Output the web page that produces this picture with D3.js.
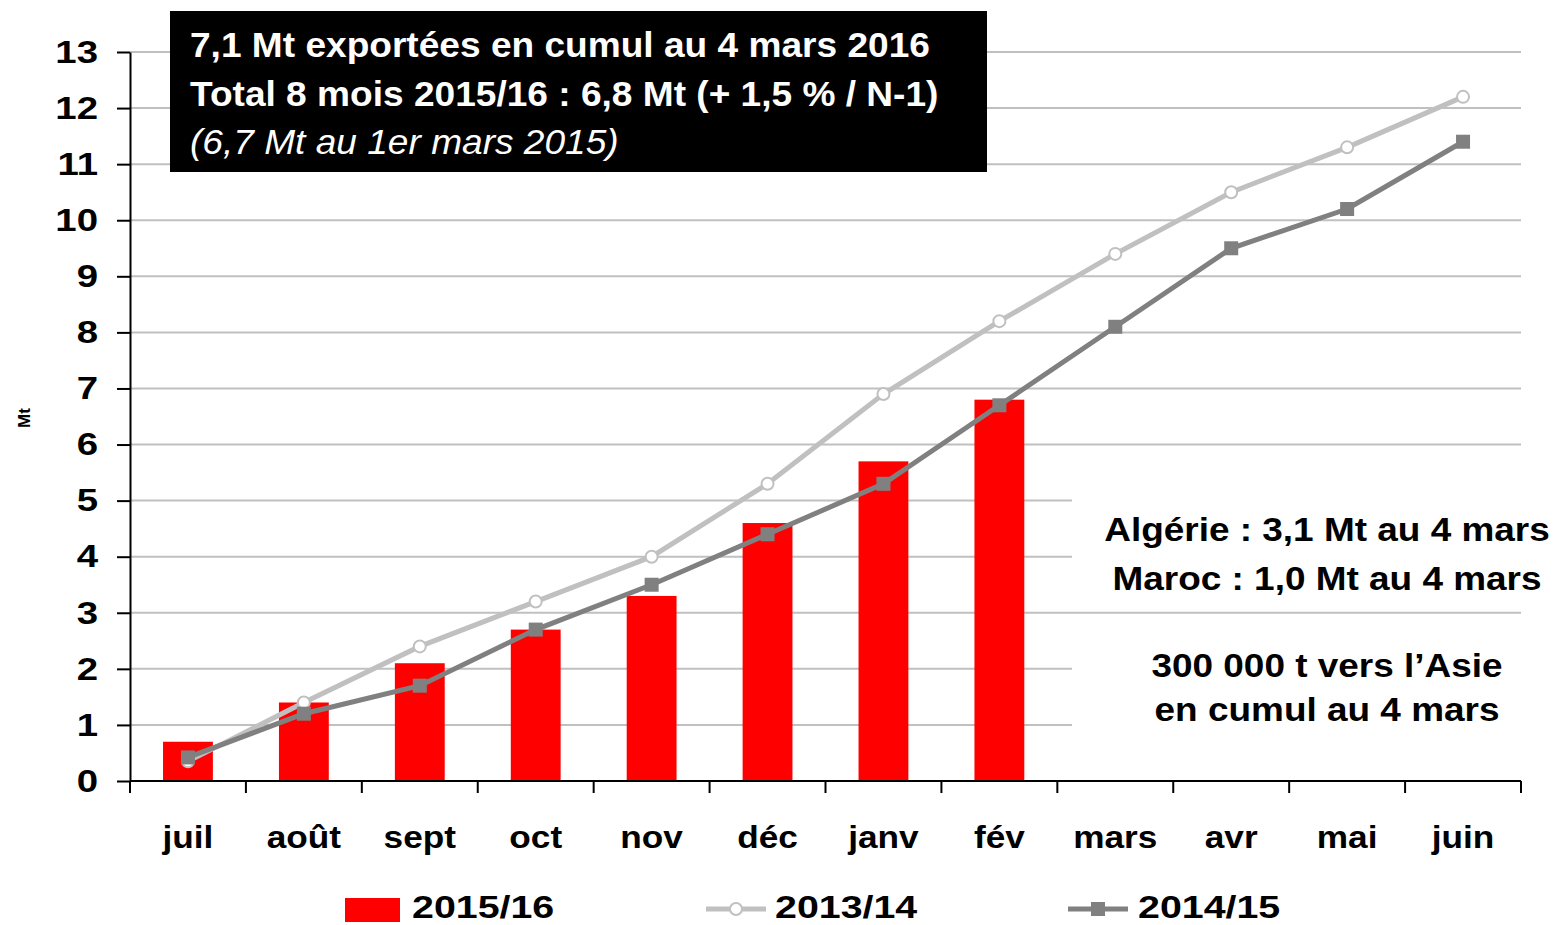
<!DOCTYPE html>
<meta charset="utf-8">
<style>
body { margin: 0; background: #fff; }
svg { font-family: "Liberation Sans", Arial, sans-serif; font-weight: bold; }
.grid line { stroke: #c0c0c0; stroke-width: 2; }
.axis path, .axis line { stroke: #000; stroke-width: 2; }
.axis text { font-size: 32px; font-weight: bold; fill: #000; font-family: "Liberation Sans", Arial, sans-serif; }
.xl { font-size: 36px; }
.note { font-size: 33px; fill: #000; }
</style>
<svg id="chart" width="1556" height="925"></svg>
<script src="https://d3js.org/d3.v7.min.js"></script>
<script>

var months = ["juil", "août", "sept", "oct", "nov", "déc", "janv", "fév", "mars", "avr", "mai", "juin"];
var yTicks = [0, 1, 2, 3, 4, 5, 6, 7, 8, 9, 10, 11, 12, 13];
var exports1516 = [0.7, 1.4, 2.1, 2.7, 3.3, 4.6, 5.7, 6.8];
var exports1314 = [0.35, 1.4, 2.4, 3.2, 4.0, 5.3, 6.9, 8.2, 9.4, 10.5, 11.3, 12.2];
var exports1415 = [0.42, 1.2, 1.7, 2.7, 3.5, 4.4, 5.3, 6.7, 8.1, 9.5, 10.2, 11.4];

var svg = d3.select("#chart");

var x = d3.scaleBand().domain(months).range([130, 1521]).padding(0);
var y = d3.scaleLinear().domain([0, 13]).range([781, 52]);

// gridlines
svg.append("g")
    .attr("class", "grid")
  .selectAll("line")
  .data(yTicks.filter(function(d) { return d > 0; }))
  .enter().append("line")
    .attr("x1", 130)
    .attr("x2", 1521)
    .attr("y1", function(d) { return y(d); })
    .attr("y2", function(d) { return y(d); });

// white boxes behind annotations hide the grid
svg.append("rect").attr("x", 1072).attr("y", 496).attr("width", 484).attr("height", 108).attr("fill", "#fff");
svg.append("rect").attr("x", 1072).attr("y", 638).attr("width", 484).attr("height", 100).attr("fill", "#fff");

// bars 2015/16
var barW = x.bandwidth() * 0.43;
svg.append("g")
  .selectAll("rect")
  .data(exports1516)
  .enter().append("rect")
    .attr("x", function(d, i) { return x(months[i]) + x.bandwidth() / 2 - barW / 2; })
    .attr("y", function(d) { return y(d); })
    .attr("width", barW)
    .attr("height", function(d) { return y(0) - y(d); })
    .attr("fill", "#ff0000");

// lines
var line = d3.line()
    .x(function(d, i) { return x(months[i]) + x.bandwidth() / 2; })
    .y(function(d) { return y(d); });

svg.append("path")
    .datum(exports1314)
    .attr("d", line)
    .attr("fill", "none")
    .attr("stroke", "#c0c0c0")
    .attr("stroke-width", 5);

svg.append("path")
    .datum(exports1415)
    .attr("d", line)
    .attr("fill", "none")
    .attr("stroke", "#808080")
    .attr("stroke-width", 5);

svg.append("g")
  .selectAll("circle")
  .data(exports1314)
  .enter().append("circle")
    .attr("cx", function(d, i) { return x(months[i]) + x.bandwidth() / 2; })
    .attr("cy", function(d) { return y(d); })
    .attr("r", 6)
    .attr("fill", "#fff")
    .attr("stroke", "#c0c0c0")
    .attr("stroke-width", 2);

svg.append("g")
  .selectAll("rect")
  .data(exports1415)
  .enter().append("rect")
    .attr("x", function(d, i) { return x(months[i]) + x.bandwidth() / 2 - 7; })
    .attr("y", function(d) { return y(d) - 7; })
    .attr("width", 14)
    .attr("height", 14)
    .attr("fill", "#808080");

// y axis
var yAxis = svg.append("g")
    .attr("class", "axis")
    .attr("transform", "translate(130,0)")
    .call(d3.axisLeft(y).tickValues(yTicks).tickSize(13).tickSizeOuter(0).tickPadding(17));
yAxis.selectAll("text")
    .attr("x", -32 / 1.2)
    .attr("transform", "scale(1.2,1)");

// x axis
var xAxis = svg.append("g")
    .attr("class", "axis")
    .attr("transform", "translate(0,781)");
xAxis.append("line").attr("x1", 130).attr("x2", 1521).attr("y1", 0).attr("y2", 0);
xAxis.selectAll(".xt")
  .data(months.concat(["end"]))
  .enter().append("line")
    .attr("class", "xt")
    .attr("x1", function(d) { return d === "end" ? x.range()[1] : x(d); })
    .attr("x2", function(d) { return d === "end" ? x.range()[1] : x(d); })
    .attr("y1", 0)
    .attr("y2", 12);
xAxis.selectAll(".xl")
  .data(months)
  .enter().append("text")
    .attr("class", "xl")
    .attr("transform", function(d) { return "translate(" + (x(d) + x.bandwidth() / 2) + ",67) scale(1.1,1)"; })
    .attr("text-anchor", "middle")
    .text(function(d) { return d; });

// y label
svg.append("text")
    .attr("transform", "translate(30,418) rotate(-90)")
    .attr("text-anchor", "middle")
    .attr("font-size", 17)
    .text("Mt");

// title box
svg.append("rect").attr("x", 170).attr("y", 11).attr("width", 817).attr("height", 161).attr("fill", "#000");
var titleLines = [
  { t: "7,1 Mt exportées en cumul au 4 mars 2016", y: 57, it: false },
  { t: "Total 8 mois 2015/16 : 6,8 Mt (+ 1,5 % / N-1)", y: 106, it: false },
  { t: "(6,7 Mt au 1er mars 2015)", y: 154, it: true }
];
svg.selectAll(".tl")
  .data(titleLines)
  .enter().append("text")
    .attr("class", "tl")
    .attr("transform", function(d) { return "translate(190," + d.y + ") scale(1.06,1)"; })
    .attr("fill", "#fff")
    .attr("font-size", 35)
    .attr("font-weight", function(d) { return d.it ? "normal" : "bold"; })
    .attr("font-style", function(d) { return d.it ? "italic" : "normal"; })
    .text(function(d) { return d.t; });

// annotations
var notes = [
  { t: "Algérie : 3,1 Mt au 4 mars", y: 541 },
  { t: "Maroc : 1,0 Mt au 4 mars", y: 590 },
  { t: "300 000 t vers l\u2019Asie", y: 677 },
  { t: "en cumul au 4 mars", y: 721 }
];
svg.selectAll(".note")
  .data(notes)
  .enter().append("text")
    .attr("class", "note")
    .attr("transform", function(d) { return "translate(1327," + d.y + ") scale(1.12,1)"; })
    .attr("text-anchor", "middle")
    .text(function(d) { return d.t; });

// legend
var lg = svg.append("g").attr("font-size", 32);
lg.append("rect").attr("x", 345).attr("y", 898).attr("width", 55).attr("height", 24).attr("fill", "#ff0000");
lg.append("text").attr("transform", "translate(412,918) scale(1.23,1)").text("2015/16");
lg.append("line").attr("x1", 706).attr("x2", 766).attr("y1", 909).attr("y2", 909).attr("stroke", "#c0c0c0").attr("stroke-width", 5);
lg.append("circle").attr("cx", 736).attr("cy", 909).attr("r", 6).attr("fill", "#fff").attr("stroke", "#c0c0c0").attr("stroke-width", 2);
lg.append("text").attr("transform", "translate(775,918) scale(1.23,1)").text("2013/14");
lg.append("line").attr("x1", 1068).attr("x2", 1128).attr("y1", 909).attr("y2", 909).attr("stroke", "#808080").attr("stroke-width", 5);
lg.append("rect").attr("x", 1091).attr("y", 902).attr("width", 14).attr("height", 14).attr("fill", "#808080");
lg.append("text").attr("transform", "translate(1138,918) scale(1.23,1)").text("2014/15");

</script>
